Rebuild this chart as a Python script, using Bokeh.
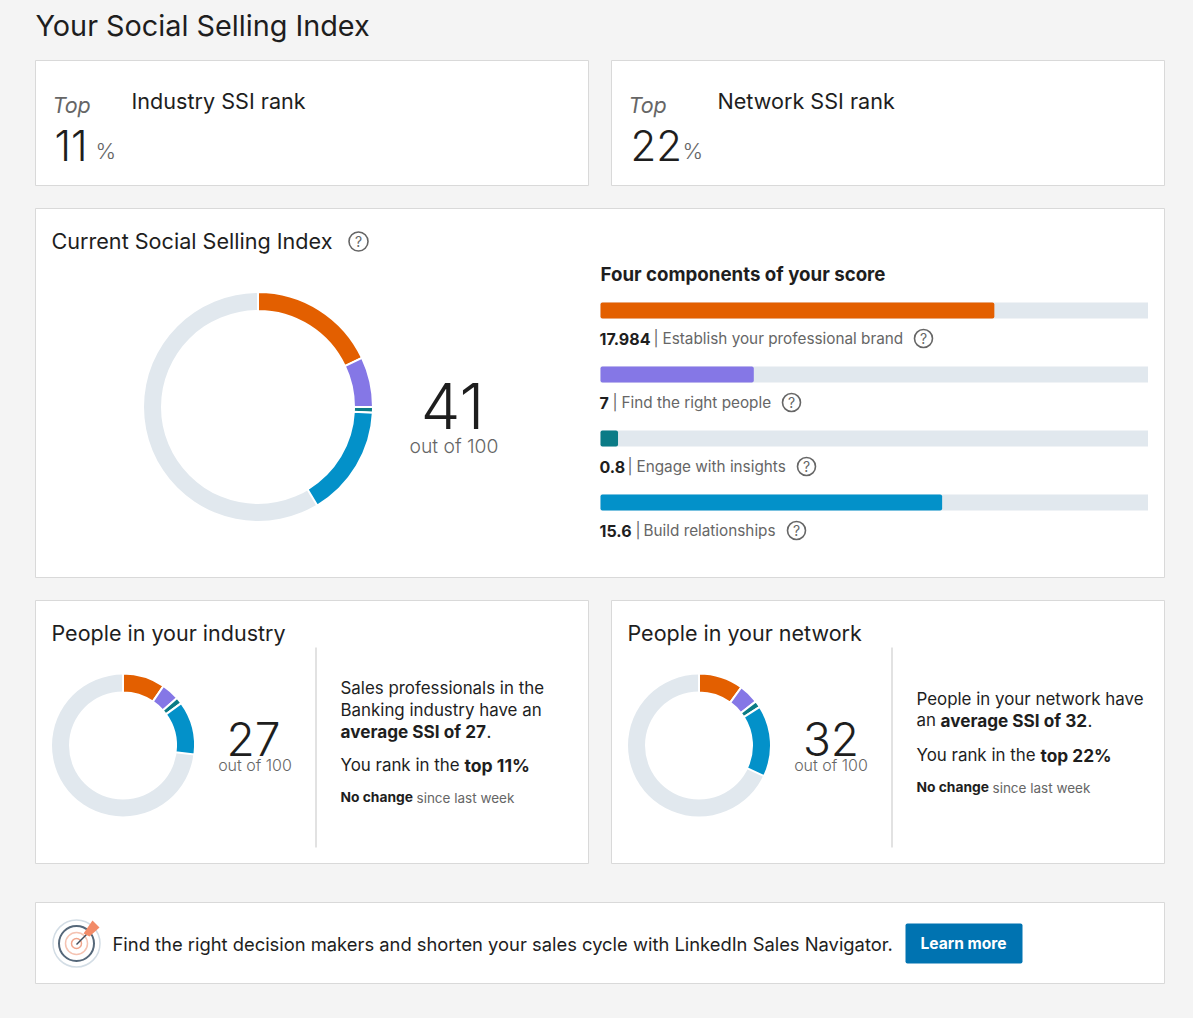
import math
from bokeh.plotting import figure
from bokeh.embed import file_html
from bokeh.resources import INLINE
from bokeh.core.properties import value

# --- data ---
component_names = ["Establish your professional brand", "Find the right people", "Engage with insights", "Build relationships"]
component_labels = ["17.984", "7", "0.8", "15.6"]
component_values = [17.984, 7, 0.8, 15.6]
component_max = 25
industry_values = [9.5, 4.0, 1.5, 12.0]
network_values = [10.0, 4.5, 1.5, 16.0]
score_total = 41
industry_total = 27
network_total = 32
industry_rank = "11"
network_rank = "22"

# --- styles ---
COLORS = ["#e35f00", "#8577e6", "#0b7b86", "#0391c9"]
TRACK = "#e1e8ee"
BG = "#f4f4f4"
BORDER = "#d9d9d9"
INK = "#1e1e1e"
GREY = "#666666"
F = "Inter"
FL = "'Inter Light', 'Roboto Light', Inter"
BASE = 0.365  # offset of Bokeh's alphabetic text box, as a share of the font size

W, H = 1177, 1002
p = figure(width=W, height=H, x_range=(0, W), y_range=(H, 0),
           output_backend="svg", toolbar_location=None, min_border=0,
           background_fill_color=BG, border_fill_color=BG, outline_line_color=None)
p.axis.visible = False
p.grid.visible = False


def txt(x, y, s, size, color=INK, style="normal", align="left", font=F):
    xx = x - 1 if align == "left" else x
    p.text(x=[xx], y=[y - BASE * size], text=[s], text_font=value(font), text_font_size=f"{size}px", text_color=color,
           text_font_style=style, text_align=align, text_baseline="alphabetic")


def card(l, t, r, b):
    p.quad(left=[l], right=[r], top=[t], bottom=[b], fill_color="white", line_color=BORDER, line_width=1)


def donut(cx, cy, ro, ri, values):
    p.annular_wedge(x=[cx], y=[cy], inner_radius=ri, outer_radius=ro, start_angle=0, end_angle=2 * math.pi,
                    fill_color=TRACK, line_color=None)
    cum = 0.0
    for v, c in zip(values, COLORS):
        a0 = math.pi / 2 - cum / 100 * 2 * math.pi
        cum += v
        a1 = math.pi / 2 - cum / 100 * 2 * math.pi
        p.annular_wedge(x=[cx], y=[cy], inner_radius=ri - 1, outer_radius=ro + 1, start_angle=a0, end_angle=a1,
                        direction="clock", fill_color=c, line_color="white", line_width=2)


def help_icon(x, y, r=9.5):
    p.circle(x=[x], y=[y], radius=r, fill_color="white", line_color=GREY, line_width=1.6)
    txt(x, y + 5, "?", 14, GREY, "normal", "center")


# cards
for box in [(35, 60, 588, 185), (611, 60, 1164, 185), (35, 208, 1164, 577),
            (35, 600, 588, 863), (611, 600, 1164, 863), (35, 902, 1164, 983)]:
    card(*box)

txt(36, 36, "Your Social Selling Index", 28.8)

# rank cards
for x0, rank, title, tx, pct_x in [(53, industry_rank, "Industry SSI rank", 132, 96), (629, network_rank, "Network SSI rank", 718, 683)]:
    txt(x0, 112, "Top", 21.5, GREY, "italic")
    txt(x0 + 2, 160, rank, 42, INK, font=FL)
    txt(pct_x, 159, "%", 22, GREY, font=FL)
    txt(tx, 108, title, 21.6)

# main
txt(52, 248, "Current Social Selling Index", 21.6)
help_icon(358, 241, 9.5)
donut(257.5, 406.5, 114, 97, component_values)
txt(452, 428, str(score_total), 63, INK, align="center", font=FL)
txt(453.5, 453, "out of 100", 19.3, GREY, align="center", font=FL)

txt(601, 281, "Four components of your score", 18.7, INK, "bold")
bar_y = [310, 374, 438, 502]
label_y = [344, 408, 472, 536]
sep_x = [654, 613, 628, 636]
name_x = [663, 622, 637, 644]
icons_x = [923, 791, 806, 796]
BAR_W = 547.5
for i in range(4):
    p.hbar(y=[bar_y[i]], left=[600], right=[600 + BAR_W], height=16, fill_color=TRACK, line_color=None)
    p.hbar(y=[bar_y[i]], left=[600], right=[600 + BAR_W * component_values[i] / component_max], height=16,
           fill_color=COLORS[i], line_color=None, border_radius=2)
    txt(600, label_y[i], component_labels[i], 16, INK, "bold")
    txt(sep_x[i], label_y[i], "|", 15.3, GREY)
    txt(name_x[i], label_y[i], component_names[i], 15.3, GREY)
    help_icon(icons_x[i], label_y[i] - 6, 9)

# people cards
txt(52, 640, "People in your industry", 21.5)
txt(628, 640, "People in your network", 21.5)
p.segment(x0=[315.5, 891.5], y0=[647, 647], x1=[315.5, 891.5], y1=[847, 847], line_color=BORDER, line_width=1.5)
donut(122.5, 745, 71, 54, industry_values)
donut(698.5, 745, 71, 54, network_values)
txt(253, 755, str(industry_total), 46, INK, align="center", font=FL)
txt(254.5, 770, "out of 100", 16, GREY, align="center", font=FL)
txt(830.5, 755, str(network_total), 46, INK, align="center", font=FL)
txt(830.5, 770, "out of 100", 16, GREY, align="center", font=FL)

txt(341, 694, "Sales professionals in the", 16.9)
txt(341, 716, "Banking industry have an", 16.9)
txt(341, 737, "average SSI of 27", 17.2, INK, "bold")
txt(487, 737, ".", 16.9)
txt(341, 771, "You rank in the", 16.9)
txt(465, 771, "top 11%", 17.6, INK, "bold")
txt(341, 802, "No change", 13.8, INK, "bold")
txt(417, 802, "since last week", 13.5, GREY)

txt(917, 705, "People in your network have", 16.9)
txt(917, 726, "an", 16.9)
txt(941, 726, "average SSI of 32", 17.2, INK, "bold")
txt(1088, 726, ".", 16.9)
txt(917, 761, "You rank in the", 16.9)
txt(1041, 761, "top 22%", 17.3, INK, "bold")
txt(917, 792, "No change", 13.8, INK, "bold")
txt(993, 792, "since last week", 13.5, GREY)

# banner
for r, c, w in [(23.5, "#d3dde5", 1.5), (17.5, "#56687a", 2), (11, "#f5c3b2", 1.5), (5, "#f0a58c", 1.5)]:
    p.circle(x=[76], y=[943], radius=r, fill_color=None, line_color=c, line_width=w)
p.segment(x0=[76], y0=[944], x1=[88], y1=[932], line_color="#3d4c5c", line_width=1.5)
p.patch(x=[83, 92, 99, 89], y=[933, 920, 927, 936], fill_color="#f28b68", line_color=None)
txt(113, 950, "Find the right decision makers and shorten your sales cycle with LinkedIn Sales Navigator.", 18.38)
p.quad(left=[905], right=[1022], top=[923], bottom=[963], fill_color="#0073b1", line_color=None, border_radius=2)
txt(963, 949, "Learn more", 15.6, "white", "bold", "center")

html = file_html(p, INLINE)
html = html.replace("</head>", f"<style>html,body{{background:{BG};overflow:hidden}}</style></head>", 1)
open("out.html", "w").write(html)
